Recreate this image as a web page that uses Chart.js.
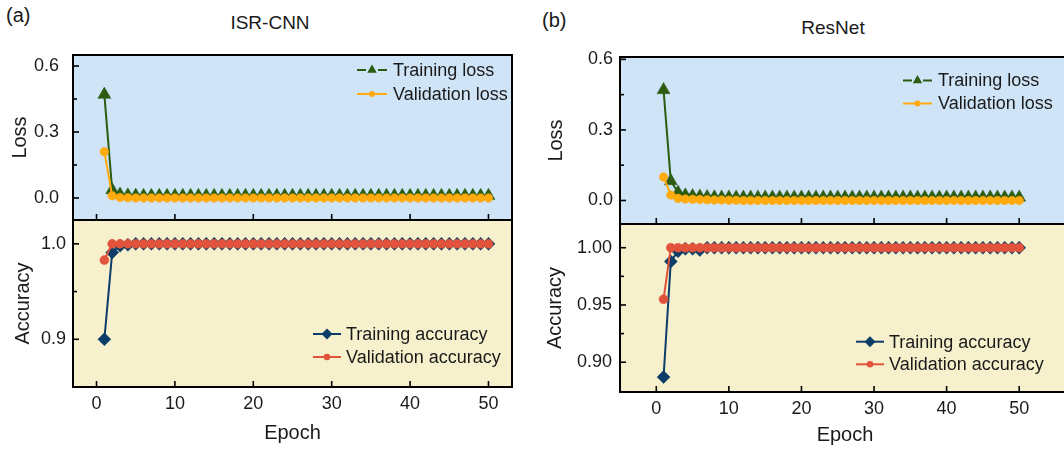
<!DOCTYPE html>
<html>
<head>
<meta charset="utf-8">
<script src="https://cdn.jsdelivr.net/npm/chart.js@4.4.1/dist/chart.umd.min.js"></script>
<style>
  html, body { margin: 0; padding: 0; background: #fff; overflow: hidden; }
  #wrap { position: relative; width: 1064px; height: 450px; overflow: hidden;
          font-family: "Liberation Sans", Arial, sans-serif; color: #1a1a1a; }
  canvas { position: absolute; }
  .lbl { position: absolute; white-space: nowrap; line-height: 1; }
  .ctr { transform: translateX(-50%); }
</style>
</head>
<body>
<div id="wrap">
  <div class="lbl" style="left:6px; top:5px; font-size:20px;">(a)</div>
  <div class="lbl ctr" style="left:270px; top:13px; font-size:19px;">ISR-CNN</div>
  <div class="lbl" style="left:542px; top:10px; font-size:20px;">(b)</div>
  <div class="lbl ctr" style="left:833px; top:18px; font-size:19px;">ResNet</div>

  <canvas id="lossA" width="530" height="220" style="left:0; top:0;"></canvas>
  <canvas id="accA" width="530" height="230" style="left:0; top:220px;"></canvas>
  <canvas id="lossB" width="560" height="224" style="left:530px; top:0;"></canvas>
  <canvas id="accB" width="560" height="226" style="left:530px; top:224px;"></canvas>
</div>

<script>
// ---- data ----
const epochs = [
  1, 2, 3, 4, 5, 6, 7, 8, 9, 10,
  11, 12, 13, 14, 15, 16, 17, 18, 19, 20,
  21, 22, 23, 24, 25, 26, 27, 28, 29, 30,
  31, 32, 33, 34, 35, 36, 37, 38, 39, 40,
  41, 42, 43, 44, 45, 46, 47, 48, 49, 50
];

// (a) ISR-CNN
const trainLossA = [
  0.47, 0.036, 0.016, 0.012, 0.011, 0.01, 0.01, 0.01, 0.01, 0.01,
  0.01, 0.01, 0.01, 0.01, 0.01, 0.01, 0.01, 0.01, 0.01, 0.01,
  0.01, 0.01, 0.01, 0.01, 0.01, 0.01, 0.01, 0.01, 0.01, 0.01,
  0.01, 0.01, 0.01, 0.01, 0.01, 0.01, 0.01, 0.01, 0.01, 0.01,
  0.01, 0.01, 0.01, 0.01, 0.01, 0.01, 0.01, 0.01, 0.01, 0.01
];
const valLossA = [
  0.21, 0.01, 0.002, 0.001, 0, 0, 0, 0, 0, 0,
  0, 0, 0, 0, 0, 0, 0, 0, 0, 0,
  0, 0, 0, 0, 0, 0, 0, 0, 0, 0,
  0, 0, 0, 0, 0, 0, 0, 0, 0, 0,
  0, 0, 0, 0, 0, 0, 0, 0, 0, 0
];
const trainAccA = [
  0.900, 0.991, 0.998, 0.999, 1, 1, 1, 1, 1, 1,
  1, 1, 1, 1, 1, 1, 1, 1, 1, 1,
  1, 1, 1, 1, 1, 1, 1, 1, 1, 1,
  1, 1, 1, 1, 1, 1, 1, 1, 1, 1,
  1, 1, 1, 1, 1, 1, 1, 1, 1, 1
];
const valAccA = [
  0.983, 1, 1, 1, 1, 1, 1, 1, 1, 1,
  1, 1, 1, 1, 1, 1, 1, 1, 1, 1,
  1, 1, 1, 1, 1, 1, 1, 1, 1, 1,
  1, 1, 1, 1, 1, 1, 1, 1, 1, 1,
  1, 1, 1, 1, 1, 1, 1, 1, 1, 1
];

// (b) ResNet
const trainLossB = [
  0.47, 0.083, 0.034, 0.022, 0.019, 0.017, 0.015, 0.014, 0.013, 0.013,
  0.013, 0.013, 0.013, 0.013, 0.013, 0.013, 0.013, 0.013, 0.013, 0.013,
  0.013, 0.013, 0.013, 0.013, 0.013, 0.013, 0.013, 0.013, 0.013, 0.013,
  0.013, 0.013, 0.013, 0.013, 0.013, 0.013, 0.013, 0.013, 0.013, 0.013,
  0.013, 0.013, 0.013, 0.013, 0.013, 0.013, 0.013, 0.013, 0.013, 0.013
];
const valLossB = [
  0.10, 0.023, 0.009, 0.006, 0.005, 0.004, 0.003, 0.002, 0.002, 0.001,
  0.001, 0, 0, 0, 0, 0, 0, 0, 0, 0,
  0, 0, 0, 0, 0, 0, 0, 0, 0, 0,
  0, 0, 0, 0, 0, 0, 0, 0, 0, 0,
  0, 0, 0, 0, 0, 0, 0, 0, 0, 0
];
const trainAccB = [
  0.887, 0.988, 0.997, 0.999, 0.999, 0.998, 1, 1, 1, 1,
  1, 1, 1, 1, 1, 1, 1, 1, 1, 1,
  1, 1, 1, 1, 1, 1, 1, 1, 1, 1,
  1, 1, 1, 1, 1, 1, 1, 1, 1, 1,
  1, 1, 1, 1, 1, 1, 1, 1, 1, 1
];
const valAccB = [
  0.955, 1, 1, 1, 1, 1, 1, 1, 1, 1,
  1, 1, 1, 1, 1, 1, 1, 1, 1, 1,
  1, 1, 1, 1, 1, 1, 1, 1, 1, 1,
  1, 1, 1, 1, 1, 1, 1, 1, 1, 1,
  1, 1, 1, 1, 1, 1, 1, 1, 1, 1
];

// tick labels
const epochTicks = [0, 10, 20, 30, 40, 50];
const lossTicksA = [0, 0.3, 0.6];
const lossMinorA = [0.15, 0.45];
const accTicksA = [0.9, 1.0];
const accMinorA = [0.95];
const lossTicksB = [0, 0.3, 0.6];
const lossMinorB = [0.15, 0.45];
const accTicksB = [0.90, 0.95, 1.00];
const accMinorB = [0.925, 0.975];

// ---- styles ----
const GREEN = '#2b5c12';
const ORANGE = '#ffaa0d';
const NAVY = '#0c3c68';
const RED = '#e2533b';
const BLUE_BG = '#cfe4f7';
const YELLOW_BG = '#f6f1cc';
const TEXT = '#1a1a1a';
const FONT = '"Liberation Sans", Arial, sans-serif';

Chart.defaults.font.family = FONT;
Chart.defaults.color = TEXT;

function toPoints(values) {
  return epochs.map((e, i) => ({ x: e, y: values[i] }));
}

function series(label, values, color, pointStyle, radius, order, legend) {
  return {
    label: label,
    data: toPoints(values),
    borderColor: color,
    backgroundColor: color,
    pointBackgroundColor: color,
    pointBorderColor: color,
    pointBorderWidth: 0.5,
    pointStyle: pointStyle,
    pointRadius: radius,
    borderWidth: 2,
    tension: 0,
    order: order,
    legend: legend
  };
}

// background, frame, inward ticks and the inside legend
const panelPlugin = {
  id: 'panel',
  beforeDraw(chart, args, opts) {
    const { ctx, chartArea: a } = chart;
    ctx.save();
    ctx.fillStyle = opts.bg;
    ctx.fillRect(a.left, a.top, a.right - a.left, a.bottom - a.top);
    ctx.restore();
  },
  afterDraw(chart, args, opts) {
    const { ctx, chartArea: a } = chart;
    const xs = chart.scales.x, ys = chart.scales.y;
    ctx.save();
    ctx.strokeStyle = '#000';
    ctx.lineWidth = 1.6;
    const line = (x1, y1, x2, y2) => {
      ctx.beginPath(); ctx.moveTo(x1, y1); ctx.lineTo(x2, y2); ctx.stroke();
    };
    ys.ticks.forEach(t => {
      const p = ys.getPixelForValue(t.value);
      line(a.left, p, a.left + 6, p);
    });
    (opts.yMinor || []).forEach(v => {
      const p = ys.getPixelForValue(v);
      line(a.left, p, a.left + 4, p);
    });
    xs.ticks.forEach(t => {
      const p = xs.getPixelForValue(t.value);
      line(p, a.bottom, p, a.bottom - 6);
    });
    ctx.lineWidth = 2;
    ctx.strokeRect(a.left, a.top, a.right - a.left, a.bottom - a.top);

    // legend
    const lg = opts.legend;
    ctx.font = '18px ' + FONT;
    ctx.textBaseline = 'middle';
    ctx.textAlign = 'left';
    chart.data.datasets.forEach((ds, i) => {
      const cy = lg.y + i * lg.rowH;
      const x0 = lg.x, x1 = lg.x + lg.w, cx = (x0 + x1) / 2;
      ctx.strokeStyle = ds.borderColor;
      ctx.fillStyle = ds.borderColor;
      ctx.lineWidth = 2;
      if (ds.legend.gap) {
        line(x0, cy, x0 + 9, cy);
        line(x1 - 9, cy, x1, cy);
      } else {
        line(x0, cy, x1, cy);
      }
      Chart.helpers.drawPoint(ctx, {
        pointStyle: ds.pointStyle, radius: ds.legend.r, rotation: 0, borderWidth: 0
      }, cx, cy);
      ctx.fillStyle = TEXT;
      ctx.fillText(ds.label, lg.textX, cy + 1);
    });
    ctx.restore();
  }
};

// stop the scales from reserving room for half tick labels
function noEdgePadding(s) {
  s.paddingTop = 0;
  s.paddingBottom = 0;
  s.paddingLeft = 0;
  s.paddingRight = 0;
}

function makeChart(id, cfg) {
  return new Chart(document.getElementById(id), {
    type: 'line',
    data: { datasets: cfg.datasets },
    options: {
      responsive: false,
      animation: false,
      layout: { padding: cfg.padding, autoPadding: false },
      scales: {
        x: {
          type: 'linear',
          min: cfg.xMin,
          max: cfg.xMax,
          afterBuildTicks: s => { s.ticks = epochTicks.map(v => ({ value: v })); },
          ticks: { display: cfg.showX, padding: 6, font: { size: 18 }, color: TEXT,
                   maxRotation: 0, autoSkip: false },
          grid: { display: false, drawTicks: false },
          border: { display: false },
          title: { display: cfg.showX, text: 'Epoch', font: { size: 20 }, color: TEXT,
                   padding: { top: 0, bottom: cfg.xTitlePad || 0 } },
          afterFit: s => { s.height = cfg.xHeight; noEdgePadding(s); }
        },
        y: {
          type: 'linear',
          min: cfg.yMin,
          max: cfg.yMax,
          afterBuildTicks: s => { s.ticks = cfg.yTicks.map(v => ({ value: v })); },
          ticks: { padding: cfg.yTickPad, font: { size: 18 }, color: TEXT,
                   callback: v => v.toFixed(cfg.dec) },
          grid: { display: false, drawTicks: false },
          border: { display: false },
          title: { display: true, text: cfg.yTitle, font: { size: 20 }, color: TEXT,
                   padding: { top: cfg.yTitlePad, bottom: 0 } },
          afterFit: s => { s.width = cfg.yWidth; noEdgePadding(s); }
        }
      },
      plugins: {
        legend: { display: false },
        tooltip: { enabled: false },
        panel: { bg: cfg.bg, yMinor: cfg.yMinor, legend: cfg.legend }
      }
    },
    plugins: [panelPlugin]
  });
}

// (a) ISR-CNN
makeChart('lossA', {
  datasets: [
    series('Training loss', trainLossA, GREEN, 'triangle', 7.5, 1, { gap: true, r: 5.5 }),
    series('Validation loss', valLossA, ORANGE, 'circle', 4.3, 0, { gap: false, r: 3 })
  ],
  padding: { left: 0, top: 55, right: 18, bottom: 0 },
  xMin: -3, xMax: 53, showX: false, xHeight: 0,
  yMin: -0.1, yMax: 0.65, yTicks: lossTicksA, yMinor: lossMinorA, dec: 1,
  yTickPad: 14, yTitle: 'Loss', yTitlePad: 8, yWidth: 73,
  bg: BLUE_BG,
  legend: { x: 357, w: 30, textX: 393, y: 70, rowH: 24 }
});
makeChart('accA', {
  datasets: [
    series('Training accuracy', trainAccA, NAVY, 'rectRot', 6.5, 1, { gap: false, r: 5.5 }),
    series('Validation accuracy', valAccA, RED, 'circle', 4.5, 0, { gap: false, r: 3.3 })
  ],
  padding: { left: 0, top: 0, right: 18, bottom: 0 },
  xMin: -3, xMax: 53, showX: true, xHeight: 63, xTitlePad: 5,
  yMin: 0.85, yMax: 1.025, yTicks: accTicksA, yMinor: accMinorA, dec: 1,
  yTickPad: 7, yTitle: 'Accuracy', yTitlePad: 11, yWidth: 73,
  bg: YELLOW_BG,
  legend: { x: 313, w: 28, textX: 346, y: 114, rowH: 23 }
});

// (b) ResNet
makeChart('lossB', {
  datasets: [
    series('Training loss', trainLossB, GREEN, 'triangle', 7.5, 1, { gap: true, r: 5.5 }),
    series('Validation loss', valLossB, ORANGE, 'circle', 4.3, 0, { gap: false, r: 3 })
  ],
  padding: { left: 0, top: 57, right: 20, bottom: 0 },
  xMin: -5, xMax: 57, showX: false, xHeight: 0,
  yMin: -0.1, yMax: 0.61, yTicks: lossTicksB, yMinor: lossMinorB, dec: 1,
  yTickPad: 7, yTitle: 'Loss', yTitlePad: 14, yWidth: 90,
  bg: BLUE_BG,
  legend: { x: 373, w: 29, textX: 408, y: 80.5, rowH: 23 }
});
makeChart('accB', {
  datasets: [
    series('Training accuracy', trainAccB, NAVY, 'rectRot', 6.5, 1, { gap: false, r: 5.5 }),
    series('Validation accuracy', valAccB, RED, 'circle', 4.5, 0, { gap: false, r: 3.3 })
  ],
  padding: { left: 0, top: 0, right: 20, bottom: 0 },
  xMin: -5, xMax: 57, showX: true, xHeight: 58, xTitlePad: 3,
  yMin: 0.874, yMax: 1.0207, yTicks: accTicksB, yMinor: accMinorB, dec: 2,
  yTickPad: 8, yTitle: 'Accuracy', yTitlePad: 13, yWidth: 90,
  bg: YELLOW_BG,
  legend: { x: 326, w: 28, textX: 359, y: 117.7, rowH: 22.6 }
});
</script>
</body>
</html>
